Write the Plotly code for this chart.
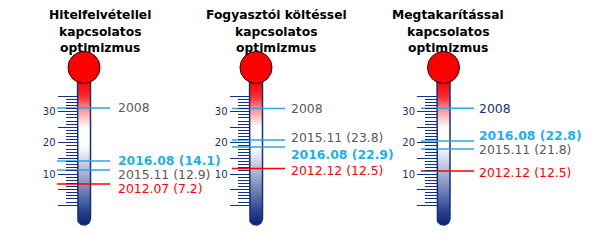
import numpy as np
import plotly.graph_objects as go

# ---------------- data ----------------
titles = [
    ["Hitelfelvétellel", "kapcsolatos", "optimizmus"],
    ["Fogyasztói költéssel", "kapcsolatos", "optimizmus"],
    ["Megtakarítással", "kapcsolatos", "optimizmus"],
]

# thermometer 1
periods1 = ["2008", "2016.08", "2015.11", "2012.07"]
values1 = [None, 14.1, 12.9, 7.2]
levels1 = [31.2, 14.2, 11.3, 6.8]          # marker line level
label_levels1 = [31.2, 14.2, 10.0, 5.2]    # label level

# thermometer 2
periods2 = ["2008", "2015.11", "2016.08", "2012.12"]
values2 = [None, 23.8, 22.9, 12.5]
levels2 = [31.0, 20.9, 18.7, 11.8]
label_levels2 = [31.0, 21.8, 16.4, 11.1]

# thermometer 3
periods3 = ["2008", "2016.08", "2015.11", "2012.12"]
values3 = [None, 22.8, 21.8, 12.5]
levels3 = [31.1, 20.6, 18.0, 11.0]
label_levels3 = [31.1, 22.3, 17.8, 10.4]

major_ticks = [0, 5, 10, 15, 20, 25, 30, 35]
major_labels = ["", "", "10", "", "20", "", "30", ""]
minor_ticks = [v for v in range(0, 36) if v % 5 != 0]

# ---------------- styles ----------------
NAVY = "#14307f"
LBLUE = "#29a8e0"
RED = "#ff0000"
GRAY = "#5a5a5a"
BOLDBLUE = "#1cb0ec"

line_colors = {
    0: [LBLUE, LBLUE, LBLUE, RED],
    1: [LBLUE, LBLUE, LBLUE, RED],
    2: [LBLUE, LBLUE, LBLUE, RED],
}
label_styles = {
    0: [(GRAY, False), (BOLDBLUE, True), (GRAY, False), (RED, False)],
    1: [(GRAY, False), (GRAY, False), (BOLDBLUE, True), (RED, False)],
    2: [(NAVY, False), (BOLDBLUE, True), (GRAY, False), (RED, False)],
}

centers = [84, 256, 443.5]          # tube centers (px)
title_x = [100, 276, 448]
title_line_y = [15, 32, 48]         # px from top
line_x = [(57, 110), (232, 285), (421, 474)]
label_x = [116, 289, 477]

Y0_PIX = 205.2
PX_PER_UNIT = 3.117
H = 240


def val(py):
    return (Y0_PIX - py) / PX_PER_UNIT


yrange = [val(H), val(0)]
yrefs = ["y", "y2", "y3"]

series = [
    (periods1, values1, levels1, label_levels1),
    (periods2, values2, levels2, label_levels2),
    (periods3, values3, levels3, label_levels3),
]

fig = go.Figure()
shapes = []
annotations = []

tube_scale = [
    [0.0, "#0a2270"],
    [0.1, "#2a4590"],
    [0.25, "#7586b5"],
    [0.4, "#b9c2d9"],
    [0.52, "#f1f3f8"],
    [0.56, "#ffffff"],
    [0.68, "#ffffff"],
    [0.8, "#ff9a9a"],
    [0.9, "#ff2a2a"],
    [1.0, "#ff0000"],
]

for k, c in enumerate(centers):
    yr = yrefs[k]
    # tube outline polygon with rounded bottom
    hw = 6.5
    cy = 218.5
    th = np.linspace(np.pi, 0, 25)
    xs = [c - hw, c - hw] + list(c + hw * np.cos(th)) + [c + hw, c - hw]
    ys_pix = [70, cy] + list(cy + hw * np.sin(th)) + [70, 70]
    ys = [val(p) for p in ys_pix]
    fig.add_trace(go.Scatter(
        x=xs, y=ys, yaxis=yr, mode="lines", fill="toself",
        line=dict(color=NAVY, width=1.5),
        fillgradient=dict(type="vertical", colorscale=tube_scale,
                          start=val(225), stop=val(82)),
        hoverinfo="skip", showlegend=False,
    ))
    # bulb
    shapes.append(dict(type="circle", xref="x", yref=yr,
                       x0=c - 16, x1=c + 16, y0=val(67.5 + 16), y1=val(67.5 - 16),
                       fillcolor=RED, line=dict(color="#2a0000", width=1)))

    periods, values, levels, label_levels = series[k]
    for i, (p, v, lv, ll) in enumerate(zip(periods, values, levels, label_levels)):
        fig.add_trace(go.Scatter(
            x=list(line_x[k]), y=[lv, lv], yaxis=yr, mode="lines",
            line=dict(color=line_colors[k][i], width=1.5),
            hoverinfo="skip", showlegend=False,
        ))
        txt = p if v is None else f"{p} ({v})"
        col, bold = label_styles[k][i]
        if bold:
            txt = f"<b>{txt}</b>"
        annotations.append(dict(
            x=label_x[k], y=ll, xref="x", yref=yr, text=txt, showarrow=False,
            xanchor="left", yanchor="middle",
            font=dict(family="DejaVu Sans", size=12.4, color=col),
        ))

    for line_txt, ty in zip(titles[k], title_line_y):
        annotations.append(dict(
            x=title_x[k], y=1 - ty / H, xref="x", yref="paper",
            text=f"<b>{line_txt}</b>", showarrow=False,
            xanchor="center", yanchor="middle",
            font=dict(family="DejaVu Sans", size=12.3, color="#000000"),
        ))


def yaxis_cfg(pos, overlay=None):
    d = dict(
        range=yrange, fixedrange=True, anchor="free", position=pos,
        showgrid=False, zeroline=False, showline=False,
        ticks="outside", tickmode="array", tickvals=major_ticks, ticktext=major_labels,
        ticklen=20, tickwidth=1, tickcolor=NAVY,
        tickfont=dict(family="DejaVu Sans", size=10, color=NAVY),
        minor=dict(tickmode="array", tickvals=minor_ticks, ticklen=12,
                   tickwidth=1, tickcolor=NAVY, ticks="outside", showgrid=False),
    )
    if overlay:
        d["overlaying"] = overlay
    return d


fig.update_layout(
    width=600, height=240,
    margin=dict(l=0, r=0, t=0, b=0),
    paper_bgcolor="white", plot_bgcolor="white",
    xaxis=dict(range=[0, 600], visible=False, fixedrange=True, domain=[0, 1]),
    yaxis=yaxis_cfg((centers[0] - 6.5) / 600),
    yaxis2=yaxis_cfg((centers[1] - 6.5) / 600, "y"),
    yaxis3=yaxis_cfg((centers[2] - 6.5) / 600, "y"),
    shapes=shapes,
    annotations=annotations,
    showlegend=False,
)

fig.write_html("out.html")
